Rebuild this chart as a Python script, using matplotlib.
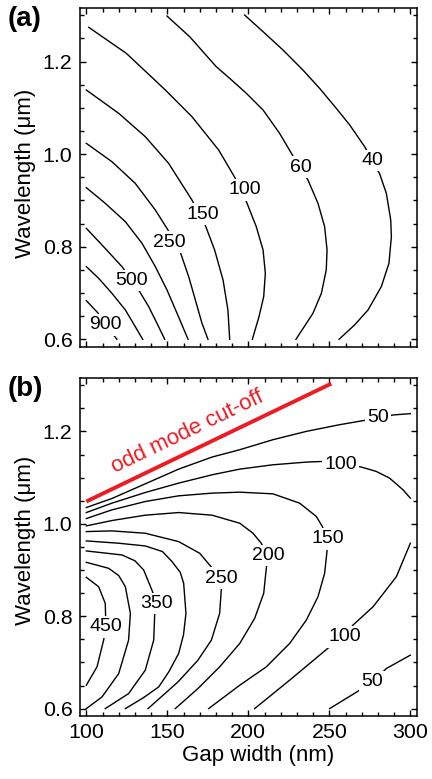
import matplotlib
matplotlib.use('Agg')
import matplotlib.pyplot as plt
from matplotlib.ticker import MultipleLocator
import numpy as np

plt.rcParams['font.family'] = ['Liberation Sans', 'DejaVu Sans']

# ---------------- Panel (a) contour lines (gap width nm, wavelength um) ----------------
A_900_X = [100, 107.0, 111.7, 115.2, 118.9]
A_900_Y = [0.6835, 0.6576, 0.631, 0.6166, 0.600]
A_700_X = [100, 107.6, 115.8, 124.1, 130.2, 134.8]
A_700_Y = [0.757, 0.7318, 0.6994, 0.6634, 0.6274, 0.600]
A_500_X = [100, 109.7, 122.0, 128.2, 132.3, 138.5, 143.6, 148.4]
A_500_Y = [0.8397, 0.8037, 0.757, 0.7267, 0.7066, 0.6706, 0.6346, 0.600]
A_350_X = [100, 111.7, 124.1, 134.4, 142.6, 149.8, 156.0, 162.8]
A_350_Y = [0.9276, 0.8937, 0.8541, 0.8073, 0.757, 0.7066, 0.6562, 0.600]
A_250_X = [100, 115.8, 130.2, 142.6, 150.4, 157.9, 163.2, 167.3, 171.4, 175.1]
A_250_Y = [1.0233, 0.9837, 0.9369, 0.8793, 0.8361, 0.7893, 0.7353, 0.685, 0.6346, 0.600]
A_150_X = [100, 120.0, 136.4, 150.8, 165.2, 173.0, 179.2, 184.4, 187.4, 188.5]
A_150_Y = [1.1385, 1.0881, 1.0377, 0.9801, 0.9009, 0.8505, 0.7929, 0.7282, 0.6634, 0.600]
A_100_X = [101.5, 124.7, 148.8, 165.2, 181.7, 191.6, 198.8, 204.9, 209.1, 210.5, 209.5, 206.6, 202.5]
A_100_Y = [1.2739, 1.2177, 1.1385, 1.0809, 1.0089, 0.9499, 0.8973, 0.8433, 0.7929, 0.7426, 0.6922, 0.649, 0.600]
A_60_X = [149.8, 163.8, 180.2, 188.5, 198.8, 209.1, 219.3, 227.2, 236.8, 243.0, 247.1, 248.6, 248.1, 245.1, 239.9, 229.4]
A_60_Y = [1.2983, 1.2537, 1.1889, 1.1637, 1.1313, 1.0953, 1.0449, 0.9981, 0.9441, 0.8937, 0.8433, 0.7929, 0.7497, 0.6994, 0.6562, 0.600]
A_40_X = [197.7, 209.1, 221.4, 233.7, 244.0, 254.3, 262.6, 271.8, 281.1, 285.2, 287.9, 288.3, 286.8, 282.1, 273.9, 265.6, 256.0]
A_40_Y = [1.3005, 1.2645, 1.2249, 1.1817, 1.1421, 1.0989, 1.0629, 1.0161, 0.9571, 0.9153, 0.8577, 0.8217, 0.7641, 0.7138, 0.6634, 0.6310, 0.600]

A_LABELS = ['900', '500', '250', '150', '100', '60', '40']
A_LABEL_X = [111.7, 128.2, 151.2, 171.8, 197.7, 232.7, 276.5]
A_LABEL_Y = [0.631, 0.7267, 0.8095, 0.870, 0.9225, 0.9715, 0.9859]

# ---------------- Panel (b) contour lines ----------------
B_50U_X = [100, 115.8, 136.4, 157.0, 177.6, 194.7, 215.2, 235.8, 256.4, 270.8, 280.0, 289.3, 300]
B_50U_Y = [1.0353, 1.0548, 1.0866, 1.1184, 1.1445, 1.1604, 1.1821, 1.2001, 1.2146, 1.2233, 1.2291, 1.2356, 1.2385]
B_100U_X = [100, 115.8, 136.4, 157.0, 177.6, 194.7, 215.2, 235.8, 246.1, 256.8, 269.8, 279.0, 287.2, 295.5, 300]
B_100U_Y = [1.0244, 1.0447, 1.0678, 1.0881, 1.1061, 1.1184, 1.1278, 1.1336, 1.1351, 1.1315, 1.1228, 1.1134, 1.0989, 1.0736, 1.0555]
B_150_X = [100, 115.8, 136.4, 157.0, 177.6, 194.7, 215.2, 231.7, 242.0, 245.7, 248.8, 248.6, 247.1, 243.0, 235.8, 225.5, 211.1, 194.7, 175.5]
B_150_Y = [1.0114, 1.0302, 1.0483, 1.0606, 1.0664, 1.0685, 1.0649, 1.0447, 1.0158, 0.9941, 0.9673, 0.9420, 0.8928, 0.8422, 0.7916, 0.7410, 0.6904, 0.6506, 0.600]
B_200_X = [100, 115.8, 136.4, 157.0, 177.6, 194.7, 202.9, 208.0, 212.1, 211.1, 209.5, 203.9, 194.7, 182.3, 168.9, 154.9]
B_200_Y = [0.9955, 1.0071, 1.0187, 1.0244, 1.0187, 1.0013, 0.9796, 0.9579, 0.9312, 0.9037, 0.8495, 0.7952, 0.7410, 0.6904, 0.6434, 0.600]
B_250_X = [100, 115.8, 136.4, 157.0, 170.0, 176.1, 183.3, 183.3, 182.3, 177.2, 168.9, 156.6, 138.1]
B_250_Y = [0.9832, 0.9847, 0.9796, 0.9615, 0.9362, 0.9109, 0.8820, 0.8567, 0.8061, 0.7482, 0.7048, 0.6578, 0.600]
B_300_X = [100, 120.0, 136.4, 147.0, 152.9, 158.0, 160.1, 161.5, 160.0, 157.0, 151.0, 144.7, 135.0, 124.1]
B_300_Y = [0.9630, 0.9580, 0.9521, 0.9400, 0.9182, 0.8950, 0.8711, 0.8061, 0.7600, 0.7193, 0.6800, 0.6470, 0.6230, 0.600]
B_350_X = [100, 122.0, 130.0, 135.4, 140.9, 143.2, 142.2, 141.6, 136.4, 126.1, 111.7]
B_350_Y = [0.9413, 0.9326, 0.9200, 0.9001, 0.8531, 0.8278, 0.8025, 0.7482, 0.6832, 0.6325, 0.600]
B_400_X = [100, 113.8, 120.0, 124.1, 127.2, 126.1, 120.0, 109.7, 100]
B_400_Y = [0.9167, 0.9037, 0.8880, 0.8639, 0.8061, 0.7482, 0.6759, 0.6253, 0.600]
B_450_X = [100, 107.6, 111.7, 112.1, 110.7, 106.6, 100]
B_450_Y = [0.8842, 0.8639, 0.8278, 0.7771, 0.7482, 0.6904, 0.6506]
B_100L_X = [300, 291.4, 277.0, 264.6, 259.5, 250.2, 225.5, 203.9]
B_100L_Y = [0.9579, 0.8856, 0.8205, 0.7808, 0.7555, 0.7338, 0.6615, 0.600]
B_50L_X = [300, 285.2, 276.5, 268.7, 250.2]
B_50L_Y = [0.7157, 0.6868, 0.6578, 0.6398, 0.600]

B_LABELS = ['50', '100', '150', '200', '250', '350', '450', '100', '50']
B_LABEL_X = [280.0, 256.8, 248.8, 212.1, 183.3, 143.2, 112.1, 259.5, 276.5]
B_LABEL_Y = [1.2291, 1.1278, 0.9673, 0.9312, 0.8820, 0.8278, 0.7771, 0.7555, 0.6578]

# odd mode cut-off line
CUTOFF_X = [100, 251.2]
CUTOFF_Y = [1.0483, 1.3035]
CUTOFF_TEXT = 'odd mode cut-off'

X_TICKS = [100, 150, 200, 250, 300]
Y_TICKS = [0.6, 0.8, 1.0, 1.2]

A_LINES = [(A_900_X, A_900_Y), (A_700_X, A_700_Y), (A_500_X, A_500_Y), (A_350_X, A_350_Y),
           (A_250_X, A_250_Y), (A_150_X, A_150_Y), (A_100_X, A_100_Y), (A_60_X, A_60_Y),
           (A_40_X, A_40_Y)]
B_LINES = [(B_50U_X, B_50U_Y), (B_100U_X, B_100U_Y), (B_150_X, B_150_Y), (B_200_X, B_200_Y),
           (B_250_X, B_250_Y), (B_300_X, B_300_Y), (B_350_X, B_350_Y), (B_400_X, B_400_Y),
           (B_450_X, B_450_Y), (B_100L_X, B_100L_Y), (B_50L_X, B_50L_Y)]

W, H = 432, 779
fig = plt.figure(figsize=(W / 100, H / 100), dpi=100)

def px_axes(l, t, r, b):
    return fig.add_axes([l / W, 1 - b / H, (r - l) / W, (b - t) / H])

ax_a = px_axes(79.5, 8.3, 417.3, 346.7)
ax_b = px_axes(79.5, 378.3, 417.3, 716.0)

RED = '#ec1c24'

def style(ax, show_x, ylab_pos):
    ax.set_xlim(95.8, 304.3)
    ax.set_ylim(0.584, 1.315)
    ax.set_xticks(X_TICKS)
    ax.set_yticks(Y_TICKS)
    ax.set_yticklabels([f'{v:.1f}' for v in Y_TICKS])
    ax.xaxis.set_minor_locator(MultipleLocator(10))
    ax.yaxis.set_minor_locator(MultipleLocator(0.05))
    ax.tick_params(which='both', direction='in', top=True, right=True, width=1.0,
                   labelsize=15.4, pad=5)
    ax.tick_params(which='major', length=4.5)
    ax.tick_params(which='minor', length=3)
    if not show_x:
        ax.tick_params(labelbottom=False)
    for s in ax.spines.values():
        s.set_linewidth(1.1)
    ax.set_ylabel('Wavelength (μm)', fontsize=16, labelpad=5)
    ax.yaxis.label.set_y(ylab_pos)

def draw_lines(ax, lines, labels, lx, ly):
    for xs, ys in lines:
        ax.plot(xs, ys, color='black', lw=1.0, solid_joinstyle='round', zorder=2)
    for t, x, y in zip(labels, lx, ly):
        ax.text(x, y, t, fontsize=14, ha='center', va='center', zorder=3,
                bbox=dict(boxstyle='square,pad=0.12', fc='white', ec='none'))

style(ax_a, False, 0.513)
style(ax_b, True, 0.519)
draw_lines(ax_a, A_LINES, A_LABELS, A_LABEL_X, A_LABEL_Y)
draw_lines(ax_b, B_LINES, B_LABELS, B_LABEL_X, B_LABEL_Y)

ax_b.plot(CUTOFF_X, CUTOFF_Y, color=RED, lw=2.8, solid_capstyle='butt', zorder=4)
ax_b.set_xlabel('Gap width (nm)', fontsize=16, labelpad=2)
ax_b.xaxis.label.set_x(0.528)

fig.canvas.draw()
p0 = ax_b.transData.transform((CUTOFF_X[0], CUTOFF_Y[0]))
p1 = ax_b.transData.transform((CUTOFF_X[1], CUTOFF_Y[1]))
ang = np.degrees(np.arctan2(p1[1] - p0[1], p1[0] - p0[0]))
ax_b.text(162.8, 1.199, CUTOFF_TEXT, color=RED, fontsize=16, rotation=ang,
          rotation_mode='anchor', ha='center', va='center', zorder=4)

fig.text(8 / W, 1 - 6 / H, '(a)', fontsize=20, fontweight='bold', ha='left', va='top')
fig.text(8 / W, 1 - 376 / H, '(b)', fontsize=20, fontweight='bold', ha='left', va='top')

fig.savefig('out.png', dpi=100)
